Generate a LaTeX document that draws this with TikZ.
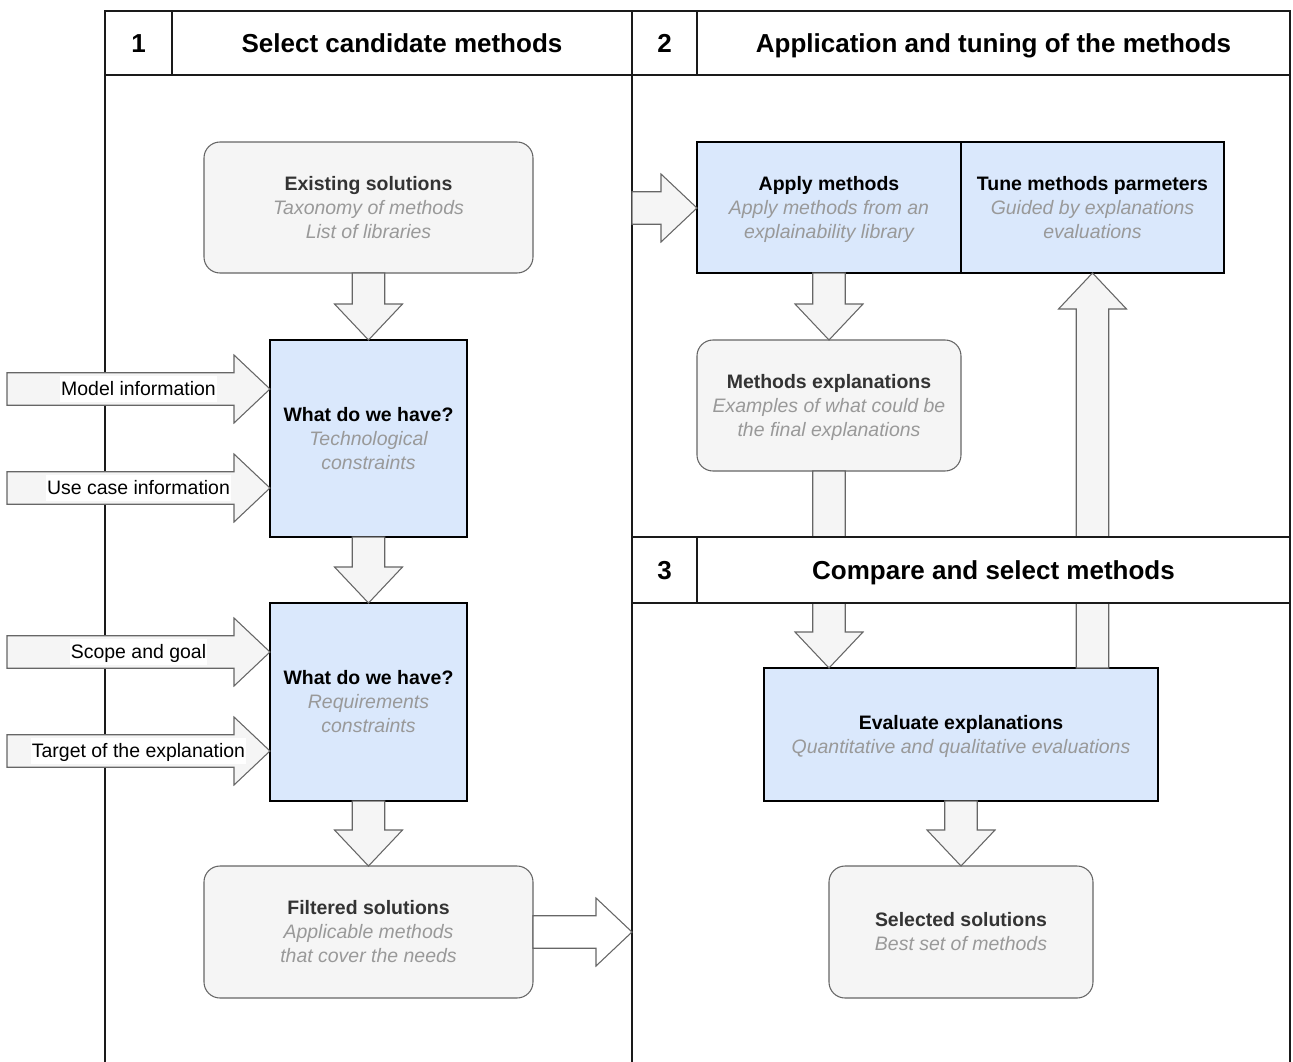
\documentclass[tikz,border=0pt]{standalone}
\usepackage{fontspec}
\setmainfont{Liberation Sans}
\usetikzlibrary{calc}
\definecolor{gfill}{HTML}{F5F5F5}
\definecolor{gline}{HTML}{666666}
\definecolor{bfill}{HTML}{DAE8FC}
\definecolor{ttxt}{HTML}{333333}
\definecolor{itxt}{HTML}{999999}
\definecolor{pline}{HTML}{1A1A1A}
\newcommand\bstrut{\rule[-3.8pt]{0pt}{18pt}}
\newcommand\hstrut{\rule[-4.5pt]{0pt}{23pt}}
\newcommand\itg[1]{{\color{itxt}\itshape\bstrut #1}}
\newcommand\hd[1]{\textbf{\bstrut #1}}
% block arrow from #2 to #3
\newcommand\barrow[3][]{%
  \coordinate (bh) at ($(#3)!27pt!(#2)$);
  \draw[barr,#1] ($(#2)!12.2pt!90:(#3)$) -- ($(bh)!12.2pt!90:(#3)$) -- ($(bh)!25.5pt!90:(#3)$) -- (#3)
    -- ($(bh)!25.5pt!-90:(#3)$) -- ($(bh)!12.2pt!-90:(#3)$) -- ($(#2)!12.2pt!-90:(#3)$) -- cycle;}
\begin{document}
\begin{tikzpicture}[x=0.75pt,y=-0.75pt,
  wh/.style 2 args={minimum width=#1*0.75pt, minimum height=#2*0.75pt},
  pool/.style={draw=pline, line width=1.9pt},
  hdr/.style={draw=pline, line width=1.9pt, fill=white, text=black, inner sep=0pt, outer sep=0pt,
    font=\fontsize{19.5pt}{23pt}\selectfont\bfseries},
  gbox/.style={draw=gline, fill=gfill, line width=0.8pt, rounded corners=12pt, align=center, text=ttxt,
    inner sep=0pt, outer sep=0pt, font=\fontsize{14.6pt}{18pt}\selectfont},
  bbox/.style={draw=black, fill=bfill, line width=1pt, align=center, text=black,
    inner sep=0pt, outer sep=0pt, font=\fontsize{14.6pt}{18pt}\selectfont},
  barr/.style={draw=gline, fill=gfill, line width=0.8pt, line join=miter},
  lbl/.style={fill=white, inner sep=1pt, text=black, font=\fontsize{14.6pt}{18pt}\selectfont}]
\useasboundingbox (0,0) rectangle (1293,1061);
\clip (0,0) rectangle (1293,1061);
% pool bodies
\draw[pool] (105,75) rectangle (632,1075);
\draw[pool] (632,75) rectangle (1290,537);
\draw[pool] (632,603) rectangle (1290,1075);
% pool 1 and 2 headers
\node[hdr, wh={67}{64}] (n1) at (138.5,43) {\hstrut 1};
\node[hdr, wh={460}{64}] (t1) at (402,43) {\hstrut Select candidate methods};
\node[hdr, wh={65}{64}] (n2) at (664.5,43) {\hstrut 2};
\node[hdr, wh={593}{64}] (t2) at (993.5,43) {\hstrut Application and tuning of the methods};
% boxes
\node[gbox, wh={329}{131}] (exist) at (368.5,207.5) {\hd{Existing solutions}\\\itg{Taxonomy of methods}\\\itg{List of libraries}};
\node[bbox, wh={197}{197}] (wd1) at (368.5,438.5) {\hd{What do we have?}\\\itg{Technological}\\\itg{constraints}};
\node[bbox, wh={197}{198}] (wd2) at (368.5,702) {\hd{What do we have?}\\\itg{Requirements}\\\itg{constraints}};
\node[gbox, wh={329}{132}] (filt) at (368.5,932) {\hd{Filtered solutions}\\\itg{Applicable methods}\\\itg{that cover the needs}};
\node[bbox, wh={264}{131}] (apply) at (829,207.5) {\hd{Apply methods}\\\itg{Apply methods from an}\\\itg{explainability library}};
\node[bbox, wh={263}{131}] (tune) at (1092.5,207.5) {\hd{Tune methods parmeters}\\\itg{Guided by explanations}\\\itg{evaluations}};
\node[gbox, wh={264}{131}] (mex) at (829,405.5) {\hd{Methods explanations}\\\itg{Examples of what could be}\\\itg{the final explanations}};
\node[bbox, wh={394}{133}] (eval) at (961,734.5) {\hd{Evaluate explanations}\\\itg{Quantitative and qualitative evaluations}};
\node[gbox, wh={264}{132}] (sel) at (961,932) {\hd{Selected solutions}\\\itg{Best set of methods}};
% free ends
\coordinate (mi0) at (7,389);
\coordinate (uc0) at (7,488);
\coordinate (sg0) at (7,652);
\coordinate (tg0) at (7,751);
\coordinate (mi1) at (wd1.west |- mi0);
\coordinate (uc1) at (wd1.west |- uc0);
\coordinate (sg1) at (wd2.west |- sg0);
\coordinate (tg1) at (wd2.west |- tg0);
\coordinate (ap0) at (632,208);
\coordinate (ap1) at (apply.west |- ap0);
\coordinate (fo1) at (632,932);
\coordinate (me1) at (eval.north -| mex.south);
\coordinate (tu0) at (eval.north -| tune.south);
% arrows
\barrow{exist.south}{wd1.north}
\barrow{wd1.south}{wd2.north}
\barrow{wd2.south}{filt.north}
\barrow{mi0}{mi1}
\barrow{uc0}{uc1}
\barrow{sg0}{sg1}
\barrow{tg0}{tg1}
\barrow[fill=white]{filt.east}{fo1}
\barrow{ap0}{ap1}
\barrow{apply.south}{mex.north}
\barrow{mex.south}{me1}
\barrow{tu0}{tune.south}
\barrow{eval.south}{sel.north}
% labels of side arrows
\node[lbl] (lmi) at ($(mi0)!0.5!(mi1)$) {\bstrut Model information};
\node[lbl] (luc) at ($(uc0)!0.5!(uc1)$) {\bstrut Use case information};
\node[lbl] (lsg) at ($(sg0)!0.5!(sg1)$) {\bstrut Scope and goal};
\node[lbl] (ltg) at ($(tg0)!0.5!(tg1)$) {\bstrut Target of the explanation};
% pool 3 header (drawn over the arrows)
\node[hdr, wh={65}{66}] (n3) at (664.5,570) {\hstrut 3};
\node[hdr, wh={593}{66}] (t3) at (993.5,570) {\hstrut Compare and select methods};
\end{tikzpicture}
\end{document}
